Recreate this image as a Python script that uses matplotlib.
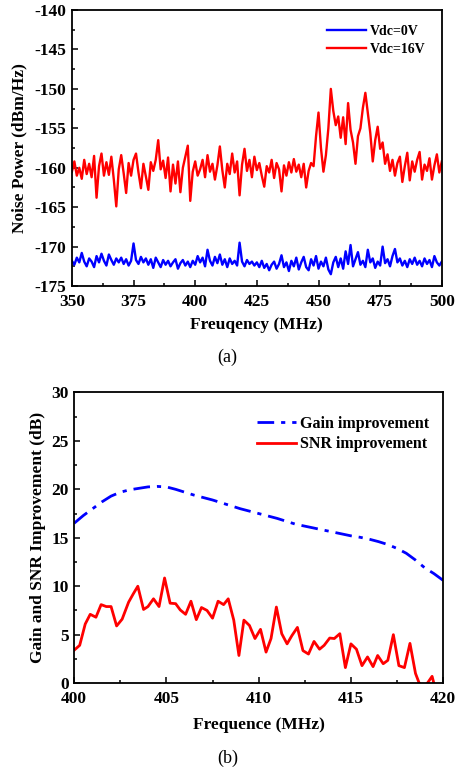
import matplotlib
matplotlib.use("Agg")
import matplotlib.pyplot as plt
import numpy as np
from matplotlib.ticker import MultipleLocator

# ---- (a) noise power spectra, 1 MHz steps from 350 to 500 MHz
freq_a = np.arange(350, 501, 1)

vdc16 = [
    -160.5, -159.2, -161.0, -160.0, -161.4, -159.0, -160.8, -159.5, -161.2, -158.5,
    -163.8, -159.8, -158.2, -161.0, -159.3, -160.9, -158.6, -161.5, -164.9, -160.2,
    -158.4, -160.7, -163.2, -159.4, -161.0, -159.0, -158.2, -160.6, -162.6, -159.5,
    -161.1, -162.8, -159.3, -160.4, -159.0, -156.5, -160.2, -159.1, -161.3, -158.7,
    -163.0, -159.6, -162.0, -159.2, -163.1, -160.0, -158.6, -157.2, -164.2, -160.5,
    -159.2, -161.0, -160.2, -159.0, -161.2, -158.4, -160.5, -159.5, -161.5, -159.7,
    -157.3, -160.3, -162.5, -159.5, -160.8, -158.2, -160.6, -159.2, -163.5, -159.6,
    -157.6, -160.4, -159.0, -161.2, -158.6, -160.3, -159.4, -161.0, -162.4, -159.8,
    -160.6, -159.0, -161.3, -159.4, -160.2, -163.0, -159.7, -161.0, -159.3, -160.6,
    -158.9, -160.5, -159.6, -161.2, -159.5, -162.5, -160.4, -159.4, -159.8, -156.0,
    -153.0, -157.5, -160.5, -158.4, -155.0, -150.0, -152.8, -154.6, -153.5, -156.2,
    -153.6, -157.0, -151.8, -155.2, -156.8, -159.5, -156.0, -155.0, -152.4, -150.5,
    -153.0, -155.6, -159.2, -156.5, -154.8, -157.6, -156.8, -159.5, -158.3, -160.4,
    -159.0, -161.0, -159.4, -158.6, -161.8, -159.8, -158.1, -161.6, -159.2, -160.5,
    -159.0, -158.0, -161.5, -159.6, -160.4, -158.8, -161.5, -159.7, -158.3, -160.6,
    -159.2,
]

vdc0 = [
    -171.8, -172.3, -171.4, -172.0, -170.8, -171.9, -172.5, -171.5, -171.9, -172.6,
    -171.2, -172.0, -170.9, -171.8, -172.4, -171.0, -171.7, -172.3, -171.5, -172.0,
    -171.4, -172.2, -171.6, -172.4, -171.8, -169.6, -171.7, -172.2, -171.3, -172.0,
    -171.5, -172.3, -171.6, -172.7, -171.4, -172.0, -172.6, -171.7, -172.3, -171.8,
    -172.5, -172.0, -171.6, -172.8, -172.1, -171.7, -172.4, -171.9, -172.6, -171.8,
    -172.3, -171.2, -172.0, -171.4, -172.5, -170.4, -171.8, -172.4, -171.3, -172.1,
    -171.0, -172.3, -171.6, -172.6, -171.5, -172.2, -171.8, -172.4, -169.5, -171.9,
    -172.5, -171.7, -172.2, -171.9, -172.4, -172.0, -172.6, -171.8, -172.7, -172.2,
    -173.0, -172.3, -171.9, -172.8, -172.2, -171.1, -172.6, -172.0, -173.1, -171.8,
    -172.5, -171.4, -172.9, -172.0, -171.3, -172.6, -173.0, -171.6, -172.4, -171.2,
    -172.8, -171.9, -172.5, -171.4, -172.9, -173.5, -172.0, -171.3, -172.6, -171.5,
    -172.8, -170.6, -172.2, -169.8, -172.5, -171.6, -170.7, -172.3, -171.8, -172.6,
    -170.4, -172.0, -171.5, -172.7, -171.9, -172.4, -170.0, -172.1, -171.6, -172.5,
    -171.2, -170.3, -172.0, -171.5, -172.4, -171.8, -172.6, -171.6, -172.2, -171.4,
    -172.3, -171.8, -172.5, -171.5, -172.2, -171.7, -172.6, -171.2, -172.0, -172.4,
    -171.9,
]

# ---- (b) gain and SNR improvement
freq_gain = np.arange(400, 420.01, 0.5)
gain = [
    16.5, 17.3, 18.0, 18.7, 19.3, 19.7, 19.95, 20.1, 20.25, 20.3,
    20.25, 20.0, 19.7, 19.4, 19.15, 18.9, 18.6, 18.3, 18.0, 17.75,
    17.5, 17.25, 17.0, 16.7, 16.4, 16.2, 16.0, 15.8, 15.6, 15.4,
    15.2, 15.05, 14.85, 14.6, 14.3, 13.9, 13.4, 12.7, 11.9, 11.3,
    10.6,
]

freq_snr = [
    400.0, 400.3, 400.6, 400.87, 401.18, 401.46, 401.74, 402.0, 402.3, 402.6,
    402.95, 403.2, 403.45, 403.76, 404.0, 404.3, 404.6, 404.9, 405.2, 405.5,
    405.75, 406.04, 406.33, 406.62, 406.9, 407.2, 407.5, 407.8, 408.1, 408.35,
    408.65, 408.93, 409.2, 409.5, 409.8, 410.1, 410.4, 410.67, 410.96, 411.25,
    411.54, 411.8, 412.1, 412.4, 412.7, 413.0, 413.3, 413.55, 413.85, 414.1,
    414.4, 414.7, 415.0, 415.3, 415.6, 415.9, 416.2, 416.45, 416.75, 417.0,
    417.3, 417.6, 417.9, 418.2, 418.5, 418.7, 419.0, 419.4, 419.6,
]
snr = [
    3.4, 3.9, 6.1, 7.1, 6.8, 8.1, 7.9, 7.9, 5.9, 6.6,
    8.35, 9.2, 10.0, 7.6, 7.9, 8.7, 7.9, 10.85, 8.25, 8.2,
    7.55, 7.1, 8.45, 6.55, 7.8, 7.5, 6.7, 8.45, 8.1, 8.7,
    6.5, 2.85, 6.5, 5.95, 4.6, 5.55, 3.2, 4.6, 7.85, 5.1,
    4.05, 4.9, 5.75, 3.35, 3.0, 4.3, 3.5, 3.9, 4.65, 4.6,
    5.1, 1.6, 4.05, 3.5, 1.8, 2.7, 1.7, 2.85, 2.0, 2.35,
    5.0, 1.8, 1.6, 4.1, 1.0, 0.0, -0.4, 0.7, -0.8,
]

plt.rcParams['font.family'] = ['Liberation Serif', 'DejaVu Serif']
plt.rcParams['font.weight'] = 'bold'
plt.rcParams['axes.labelweight'] = 'bold'
plt.rcParams['axes.unicode_minus'] = False
plt.rcParams['font.size'] = 12


def style_axes(ax):
    for s in ax.spines.values():
        s.set_linewidth(1.3)
    ax.tick_params(which='both', direction='in', top=False, right=False, width=1.1)
    ax.tick_params(which='major', length=4, labelsize=12.5)
    ax.tick_params(axis='x', which='major', pad=6)
    ax.tick_params(axis='y', which='major', pad=4)
    ax.tick_params(which='minor', length=2.5)
    for lab in ax.get_xticklabels() + ax.get_yticklabels():
        lab.set_fontweight('bold')


fig = plt.figure(figsize=(4.55, 7.71), dpi=100)

ax1 = fig.add_axes([0.158, 0.629, 0.813, 0.358])
ax1.plot(freq_a, vdc0, color='#0000ff', lw=1.7, label='Vdc=0V')
ax1.plot(freq_a, vdc16, color='#ff0000', lw=1.7, label='Vdc=16V')
ax1.set_xlim(350, 500)
ax1.set_ylim(-175, -140)
ax1.xaxis.set_major_locator(MultipleLocator(25))
ax1.xaxis.set_minor_locator(MultipleLocator(12.5))
ax1.yaxis.set_major_locator(MultipleLocator(5))
ax1.yaxis.set_minor_locator(MultipleLocator(2.5))
ax1.set_xlabel('Freuqency (MHz)', fontsize=12.5, labelpad=5)
ax1.set_ylabel('Noise Power (dBm/Hz)', fontsize=12.5, labelpad=5)
style_axes(ax1)
ax1.legend(loc='upper right', frameon=False, prop={'size': 10, 'weight': 'bold'},
           handlelength=2.8, handletextpad=0.3, labelspacing=0.35,
           bbox_to_anchor=(0.99, 0.99))
fig.text(0.5, 1 - 357 / 771, '(a)', ha='center', va='center',
         fontsize=13, fontweight='normal')

ax2 = fig.add_axes([0.163, 0.114, 0.811, 0.377])
ax2.plot(freq_gain, gain, color='#0000ff', lw=2, linestyle=(0, (6, 2.5, 1.5, 2.5)),
         label='Gain improvement')
ax2.plot(freq_snr, snr, color='#ff0000', lw=2, label='SNR improvement')
ax2.set_xlim(400, 420)
ax2.set_ylim(0, 30)
ax2.xaxis.set_major_locator(MultipleLocator(5))
ax2.xaxis.set_minor_locator(MultipleLocator(2.5))
ax2.yaxis.set_major_locator(MultipleLocator(5))
ax2.yaxis.set_minor_locator(MultipleLocator(2.5))
ax2.set_xlabel('Frequence (MHz)', fontsize=12.5, labelpad=7)
ax2.set_ylabel('Gain and SNR Improvement (dB)', fontsize=12.5, labelpad=4)
style_axes(ax2)
ax2.legend(loc='upper right', frameon=False, prop={'size': 11.5, 'weight': 'bold'},
           handlelength=2.5, handletextpad=0.2, labelspacing=0.3,
           bbox_to_anchor=(1.0, 0.97))
fig.text(0.5, 1 - 758 / 771, '(b)', ha='center', va='center',
         fontsize=13, fontweight='normal')

fig.savefig('out.png', dpi=100)
